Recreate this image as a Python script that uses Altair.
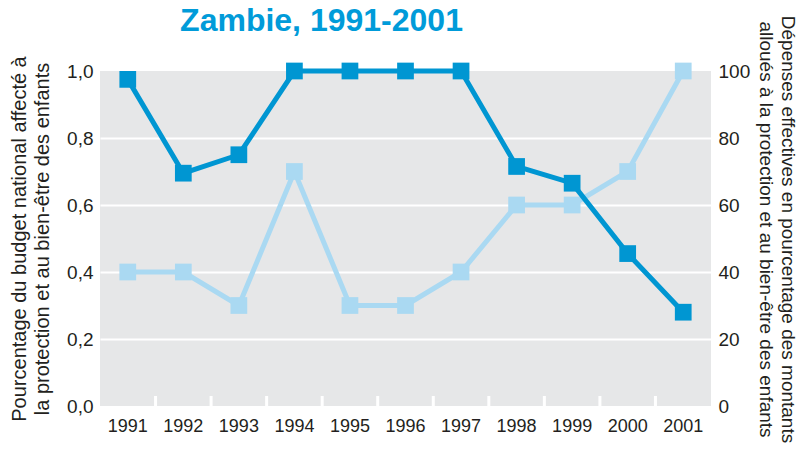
import altair as alt
import pandas as pd

years = ["1991", "1992", "1993", "1994", "1995", "1996", "1997", "1998", "1999", "2000", "2001"]
budget = [0.975, 0.695, 0.75, 1.0, 1.0, 1.0, 1.0, 0.715, 0.665, 0.455, 0.28]
depenses = [40, 40, 30, 70, 30, 30, 40, 60, 60, 70, 100]
left_ticks = [0, 0.2, 0.4, 0.6, 0.8, 1.0]
right_ticks = [0, 20, 40, 60, 80, 100]
boundary_years = years[1:]

df = pd.DataFrame({"annee": years, "budget": budget, "depenses": depenses})
bdf = pd.DataFrame({"annee": boundary_years})

DARK = "#0096d2"
LIGHT = "#aad9f2"
TXT = "#231f20"
FONT = "Liberation Sans"
W, H = 611, 335

xscale = alt.Scale(type="band", paddingInner=0, paddingOuter=0)
xaxis = alt.Axis(title=None, labelAngle=0, ticks=False, domain=False, labelFontSize=18,
                 labelPadding=11, labelColor=TXT, labelFont=FONT, grid=False)
x = alt.X("annee:O", sort=years, scale=xscale, axis=xaxis)

left_axis = alt.Axis(
    orient="left", values=left_ticks,
    labelExpr="replace(format(datum.value, '.1f'), '.', ',')",
    title=["Pourcentage du budget national  affecté à", "la protection et au bien-être des enfants"],
    titleFontSize=20, titleFont=FONT, titleFontWeight="normal", titleColor=TXT, titleLineHeight=23,
    titlePadding=14,
    labelFontSize=19, labelFont=FONT, labelColor=TXT, labelPadding=7,
    grid=True, gridColor="white", gridWidth=2,
    gridOpacity={"condition": {"test": "datum.value < 0.01 || datum.value > 0.99", "value": 0}, "value": 1},
    ticks=False, domain=False,
)
right_axis = alt.Axis(
    orient="right", values=right_ticks,
    title=["Dépenses effectives en pourcentage des montants", "alloués à la protection et au bien-être des enfants"],
    titleFontSize=19, titleFont=FONT, titleFontWeight="normal", titleColor=TXT, titleLineHeight=22,
    titlePadding=6, titleY=158,
    labelFontSize=19, labelFont=FONT, labelColor=TXT, labelPadding=7,
    grid=False, ticks=False, domain=False,
)

base = alt.Chart(df)

light_y = alt.Y("depenses:Q", scale=alt.Scale(domain=[0, 100], nice=False), axis=right_axis)
light = alt.layer(
    base.mark_line(color=LIGHT, strokeWidth=5).encode(x=x, y=light_y),
    base.mark_square(color=LIGHT, size=280, opacity=1).encode(x=x, y=light_y),
)

dark_y = alt.Y("budget:Q", scale=alt.Scale(domain=[0, 1], nice=False), axis=left_axis)
band_ticks = alt.Chart(bdf).mark_rule(color="white", strokeWidth=3).encode(
    x=alt.X("annee:O", sort=years, scale=xscale, axis=xaxis, bandPosition=0),
    y=alt.value(H - 10), y2=alt.value(H),
)
dark = alt.layer(
    band_ticks,
    base.mark_line(color=DARK, strokeWidth=5).encode(x=x, y=dark_y),
    base.mark_square(color=DARK, size=280, opacity=1).encode(x=x, y=dark_y),
)

chart = alt.layer(light, dark).resolve_scale(y="independent").properties(
    width=W, height=H,
    title=alt.TitleParams("Zambie, 1991-2001", fontSize=32, font=FONT, fontWeight="bold",
                          color="#009bd9", dx=-84, offset=-23, anchor="middle"),
    autosize=alt.AutoSizeParams(type="none"),
    padding={"left": 92, "top": 63, "right": 87, "bottom": 45},
).configure_view(fill="#e6e7e8", stroke=None)

chart.save("out.html", embed_options={"renderer": "svg", "actions": False})
